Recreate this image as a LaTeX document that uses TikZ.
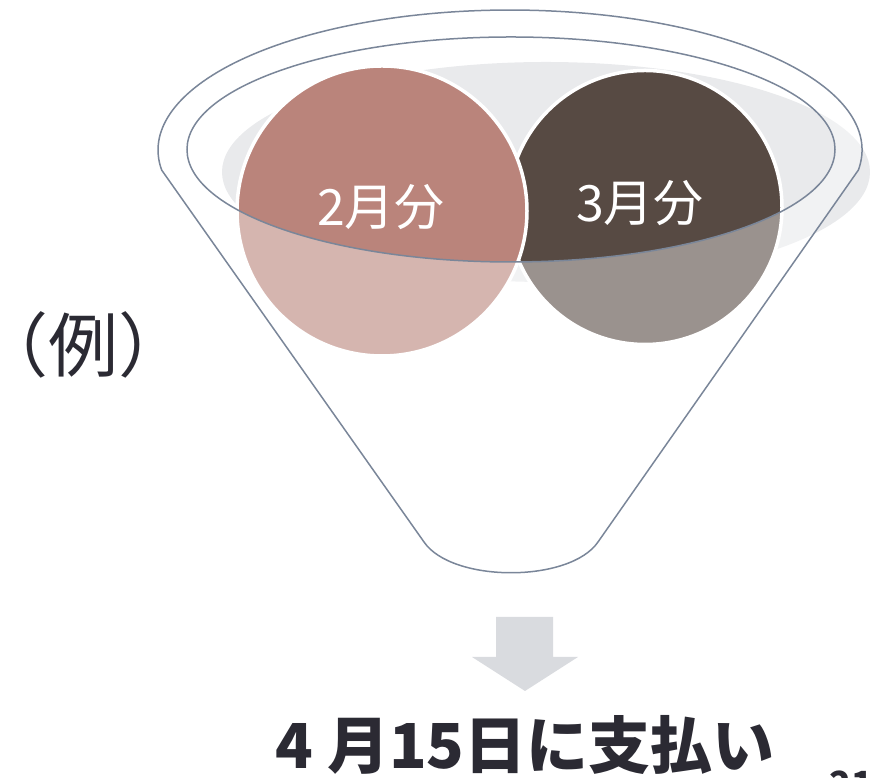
\documentclass[tikz,border=0pt]{standalone}
\usepackage{fontspec}
\setmainfont{Noto Sans CJK JP}
\definecolor{funnelc}{HTML}{7A8699}
\definecolor{pinkc}{HTML}{BA847B}
\definecolor{darkc}{HTML}{574A43}
\definecolor{grayell}{HTML}{E9EAEC}
\definecolor{arrowc}{HTML}{D9DBDF}
\definecolor{txtc}{HTML}{2B2A33}
\newcommand\funnelpath{(161.6,608) -- (424,236) .. controls (452,195) and (570,195) .. (598,236) -- (858.4,608) arc[start angle=-8.2, end angle=188.2, x radius=352pt, y radius=140pt] -- cycle}
\tikzset{
  ball/.style={circle, draw=white, line width=3.5pt, inner sep=0pt},
  rim/.style={draw=funnelc, line width=1.5pt},
  circtext/.style={text=white, font=\fontsize{50pt}{60pt}\selectfont}
}
\begin{document}
\begin{tikzpicture}[x=1pt,y=1pt]
\useasboundingbox (0,0) rectangle (879,778);
% gray shadow ellipse
\fill[grayell] (546,606) ellipse [x radius=324pt, y radius=110pt];
% circles
\node[ball, fill=darkc, minimum size=274pt] (c3) at (645,570.5) {};
\node[ball, fill=pinkc, minimum size=290pt] (c2) at (382,567) {};
% translucent front of funnel
\fill[white, fill opacity=0.4, even odd rule] \funnelpath (511,628.5) ellipse [x radius=324pt, y radius=112.5pt];
% texts in circles
\node[circtext] (t2) at (381,571) {2月分};
\node[circtext] (t3) at (640,575) {3月分};
% funnel outlines
\draw[rim, line join=round] \funnelpath;
\draw[rim] (511,628.5) ellipse [x radius=324pt, y radius=112.5pt];
% down arrow
\fill[arrowc] (496,161) -- (553,161) -- (553,121) -- (578,121) -- (525,87) -- (472,121) -- (496,121) -- cycle;
% texts
\node[text=txtc, inner sep=0pt, font=\fontsize{70pt}{80pt}\selectfont] (ex) at (83,433) {\kern-0.5em（例）\kern-0.5em};
\node[text=txtc, font=\fontsize{62pt}{72pt}\selectfont\bfseries] (pay) at (525,33) {4 月15日に支払い};
\node[text=txtc, font=\fontsize{36pt}{40pt}\selectfont\bfseries] (pg) at (851,-6) {21};
\end{tikzpicture}
\end{document}
